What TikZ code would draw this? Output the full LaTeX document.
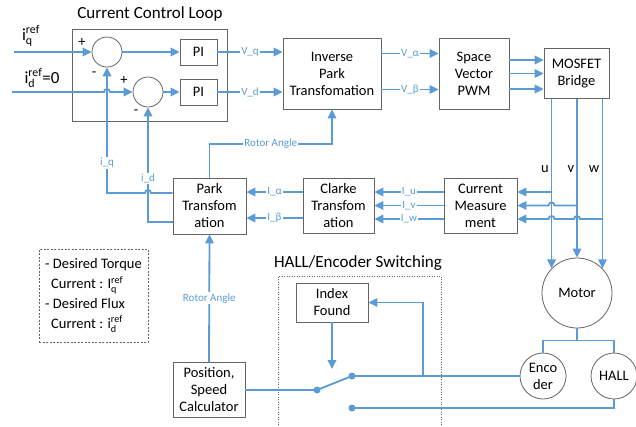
\documentclass[tikz,border=0pt]{standalone}
\usepackage{amsmath}
\usepackage{fontspec}
\setmainfont{Carlito}
\usetikzlibrary{arrows.meta,calc}
\definecolor{lineblue}{RGB}{91,155,213}
\definecolor{boxgray}{RGB}{100,100,100}

\begin{document}
\begin{tikzpicture}[x=1pt,y=-1pt,font=\fontsize{14.5}{17}\selectfont,
      bx/.style={draw=boxgray,line width=0.8pt,align=center,inner sep=1pt},
      crc/.style={draw=boxgray,line width=0.8pt,circle,inner sep=0pt,align=center},
      ln/.style={draw=lineblue,line width=1.8pt},
      ar/.style={ln,-{Triangle[length=9pt,width=8.5pt]}},
      lab/.style={font=\fontsize{11}{12}\selectfont,text=lineblue,fill=white,inner sep=1pt},
      ttl/.style={font=\fontsize{17}{19}\selectfont},
      dot/.style={circle,fill=lineblue,inner sep=0pt,minimum size=7pt}]
    \useasboundingbox (0,0) rectangle (636,426);
    % current control loop
    \node[bx,minimum width=155pt,minimum height=92pt] (loop) at (149.5,75) {};
    \node[ttl] (looptitle) at (150,14) {Current Control Loop};
    \node[crc,minimum size=30pt] (s1) at (107,52) {};
    \node[crc,minimum size=30pt] (s2) at (148,92) {};
    \node[bx,minimum width=37pt,minimum height=26pt] (pi1) at (198.5,52) {PI};
    \node[bx,minimum width=37pt,minimum height=26pt] (pi2) at (198.5,92) {PI};
    \node (p1) at (82,43) {+}; \node (m1) at (94,74) {-};
    \node (p2) at (124,81) {+}; \node (m2) at (136,112) {-};
    \node[font=\fontsize{17}{19}\selectfont] (iqref) at (31,36) {$\text{i}_{\text{q}}^{\text{ref}}$};
    \node[font=\fontsize{17}{19}\selectfont] (idref) at (42,78) {$\text{i}_{\text{d}}^{\text{ref}}$=0};
    \coordinate (iqin) at (14,52);
    \coordinate (idin) at (12,92);
    % blocks
    \node[bx,minimum width=98pt,minimum height=71pt] (ipark) at (332,73.5) {Inverse\\Park\\Transfomation};
    \node[bx,minimum width=70pt,minimum height=71pt] (svpwm) at (474,73.5) {Space\\Vector\\PWM};
    \node[bx,minimum width=65pt,minimum height=50pt] (mosfet) at (576.5,73.5) {MOSFET\\Bridge};
    \node[bx,minimum width=73pt,minimum height=55pt] (cm) at (480.5,205.5) {Current\\Measure\\ment};
    \node[bx,minimum width=71pt,minimum height=55pt] (clarke) at (338.5,205.5) {Clarke\\Transfom\\ation};
    \node[bx,minimum width=73pt,minimum height=56pt] (park) at (209.5,206) {Park\\Transfom\\ation};
    \node[bx,minimum width=72pt,minimum height=55pt] (psc) at (209,390) {Position,\\Speed\\Calculator};
    \node[bx,minimum width=72pt,minimum height=39pt] (index) at (332,302.5) {Index\\Found};
    \node[crc,minimum size=70pt] (motor) at (577,293) {Motor};
    \node[crc,minimum size=46pt] (enc) at (543,376) {Enco\\der};
    \node[crc,minimum size=46pt] (hall) at (614,376) {HALL};
    % note
    \node[draw=boxgray,line width=0.6pt,dash pattern=on 2pt off 1.5pt,minimum width=109pt,minimum height=93pt,
          align=left,font=\fontsize{14.5}{20}\selectfont] (note) at (93.5,295.5)
      {- Desired Torque\\\hspace*{6pt}Current : $\text{I}_{\text{q}}^{\text{ref}}$\\- Desired Flux\\\hspace*{6pt}Current : $\text{i}_{\text{d}}^{\text{ref}}$};
    % switching
    \node[ttl] (swtitle) at (358,263) {HALL/Encoder Switching};
    \draw[draw=boxgray,line width=0.6pt,dash pattern=on 1pt off 1.5pt] (278,430) -- (278,276) -- (441,276) -- (441,430);
    \node[dot] (pivot) at (317,390) {};
    \node[dot] (c1) at (352,376) {};
    \node[dot] (c2) at (352,408) {};
    \coordinate (br) at (423,376);
    \coordinate (iend) at (332,369);
    % phases
    \coordinate (pu) at (motor.136 |- mosfet.south);
    \coordinate (pv) at (motor.north |- mosfet.south);
    \coordinate (pw) at (motor.44 |- mosfet.south);
    \node (lu) at (545,169) {u}; \node (lv) at (571,169) {v}; \node (lw) at (594,169) {w};

    \draw[ar] (iqin) -- (s1.west);
    \draw[ar] (idin) -- ([xshift=-3pt]idin -| s1) arc (180:360:3) -- (s2.west);
    \draw[ar] (s1) -- (pi1); \draw[ar] (s2) -- (pi2);
    \draw[ar] (pi1) -- node[lab]{V\_q} (pi1 -| ipark.west);
    \draw[ar] (pi2) -- node[lab]{V\_d} (pi2 -| ipark.west);
    \draw[ar] ([yshift=20pt]ipark.east) -- node[lab]{V\_α} ([yshift=20pt]svpwm.west);
    \draw[ar] ([yshift=-16pt]ipark.east) -- node[lab]{V\_β} ([yshift=-16pt]svpwm.west);
    \foreach \dy in {13.5,0,-15.5}
      \draw[ar] ([yshift=\dy pt]svpwm.east) -- ([yshift=\dy pt]mosfet.west);
    \draw[ar] (pu) -- (motor.136); \draw[ar] (pv) -- (motor.north); \draw[ar] (pw) -- (motor.44);
    \draw[ar] ([yshift=13.5pt]cm.east -| pu) -- ([yshift=13.5pt]cm.east);
    \draw[ar] (cm.east -| pv) -- ([xshift=3pt]cm.east -| pu) arc (0:-180:3) -- (cm.east);
    \draw[ar] ([yshift=-13.5pt]cm.east -| pw) -- ([yshift=-13.5pt,xshift=3pt]cm.east -| pv) arc (0:-180:3)
      -- ([yshift=-13.5pt,xshift=3pt]cm.east -| pu) arc (0:-180:3) -- ([yshift=-13.5pt]cm.east);
    \draw[ar] ([yshift=13.5pt]cm.west) -- node[lab]{I\_u} ([yshift=13.5pt]clarke.east);
    \draw[ar] (cm.west) -- node[lab]{I\_v} (clarke.east);
    \draw[ar] ([yshift=-13.5pt]cm.west) -- node[lab]{I\_w} ([yshift=-13.5pt]clarke.east);
    \draw[ar] ([yshift=13.5pt]clarke.west) -- node[lab]{I\_α} ([yshift=13.5pt]clarke.west -| park.east);
    \draw[ar] ([yshift=-12.5pt]clarke.west) -- node[lab]{I\_β} ([yshift=-12.5pt]clarke.west -| park.east);
    \draw[ar] ([yshift=13pt]park.west) -- ([yshift=13pt,xshift=3pt]park.west -| s2) arc (0:-180:3)
      -- ([yshift=13pt]park.west -| s1) -- node[lab,pos=0.24]{i\_q} (s1.south);
    \draw[ar] ([yshift=-16pt]park.west) -- ([yshift=-16pt]park.west -| s2) -- node[lab,pos=0.38]{i\_d} (s2.south);
    \draw[ar] (park.north) -- ++(0,-34) -| node[lab,pos=0.25]{Rotor Angle} (ipark.south);
    \draw[ar] (psc.north) -- node[lab]{Rotor Angle} (park.south);
    \draw[ln] (psc.east) -- (pivot.center);
    \draw[ln] (pivot.center) -- (c1.center);
    \draw[ln] (c1.center) -- (enc.west);
    \draw[ar] (br) |- (index.east);
    \draw[ar] (index.south) -- (iend);
    \draw[ln] (c2.center) -| (hall.south);
    \draw[ln] (motor.south) -- ++(0,12) -| (enc.north);
    \draw[ln] (motor.south) -- ++(0,12) -| (hall.north);
  \end{tikzpicture}
\end{document}
